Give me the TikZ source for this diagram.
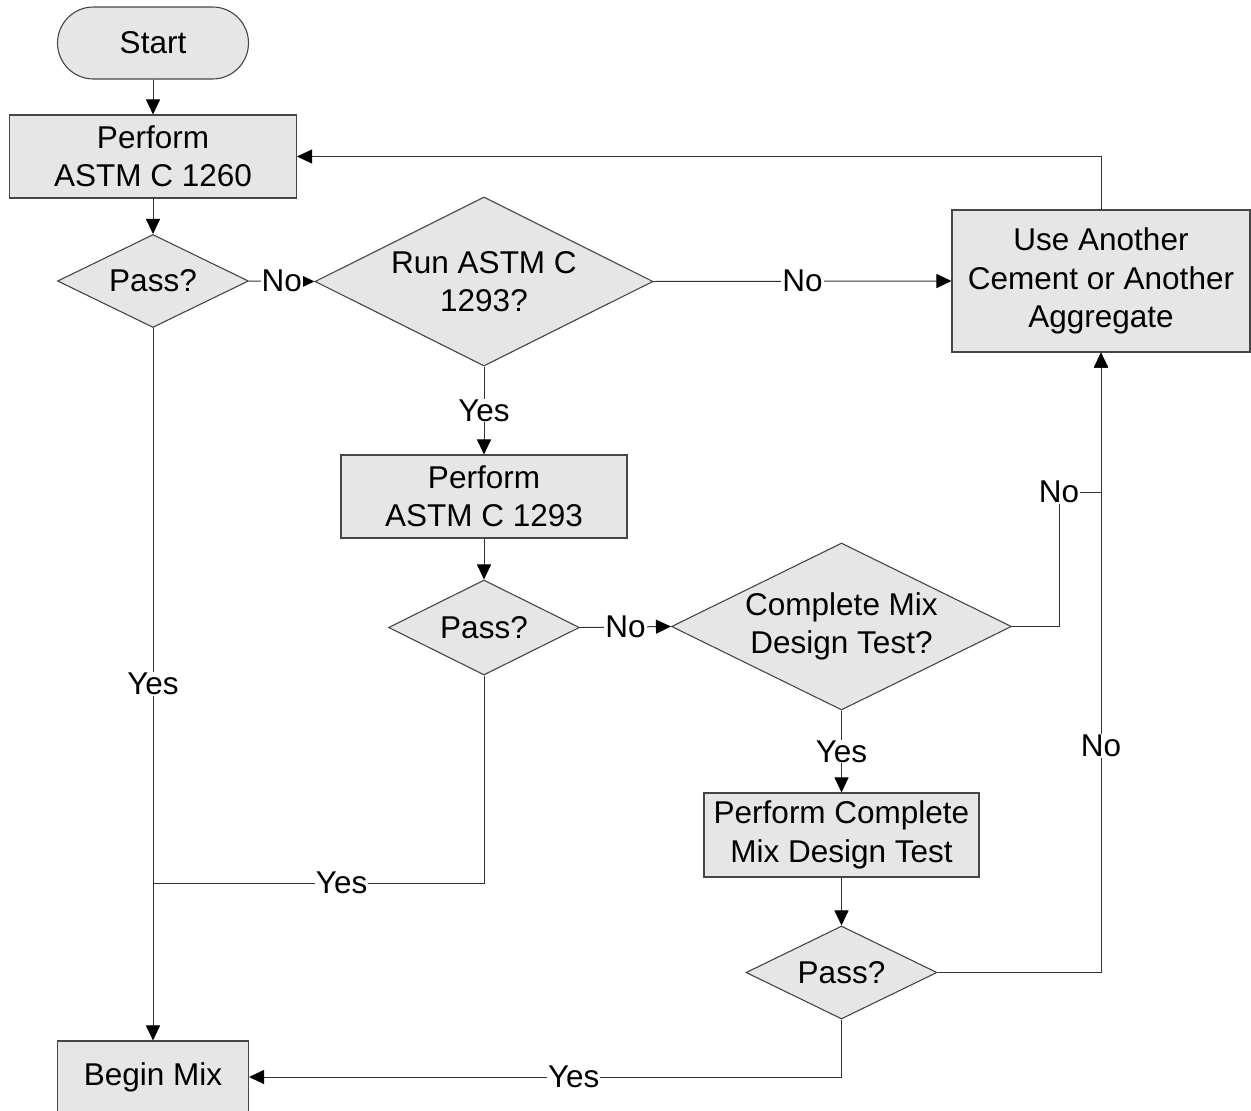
\documentclass[tikz,border=0pt]{standalone}
\usepackage{fontspec}
\setmainfont{Liberation Sans}
\usetikzlibrary{shapes.geometric,arrows.meta}
\definecolor{nodefill}{RGB}{230,230,230}
\definecolor{edgegray}{RGB}{50,50,50}
\definecolor{bordergray}{RGB}{70,70,70}
\tikzset{
  basenode/.style={draw=bordergray, line width=1.1pt, fill=nodefill, align=center, inner sep=0pt,
    font=\fontsize{31.5}{38.5}\selectfont, text=black},
  term/.style={basenode, rectangle, rounded corners=36pt, minimum width=191pt, minimum height=72pt},
  procbox/.style={basenode, rectangle},
  decision/.style={basenode, diamond, aspect=2},
  conn/.style={draw=edgegray, line width=1pt},
  arr/.style={conn, -{Triangle[length=15pt,width=14pt,fill=black,color=black]}},
  lbl/.style={fill=white, inner sep=1pt, font=\fontsize{31.5}{38.5}\selectfont, text=black}
}
\begin{document}
\begin{tikzpicture}[x=1pt,y=-1pt]
\useasboundingbox (0,0) rectangle (1251,1111);
\node[term] (start) at (153,43) {Start};
\node[procbox, minimum width=287pt, minimum height=83pt] (p1260) at (153,156.5) {Perform\\ASTM C 1260};
\node[decision, minimum width=191pt, minimum height=93pt] (pass1) at (153,281) {Pass?};
\node[decision, minimum width=338pt, minimum height=169pt] (run) at (484,281.5) {Run ASTM C\\1293?};
\node[procbox, minimum width=298pt, minimum height=142pt] (another) at (1101,281) {Use Another\\Cement or Another\\Aggregate};
\node[procbox, minimum width=286pt, minimum height=83pt] (p1293) at (484,496.5) {Perform\\ASTM C 1293};
\node[decision, minimum width=191pt, minimum height=95pt] (pass2) at (484,627.5) {Pass?};
\node[decision, minimum width=340pt, minimum height=167pt] (cmd) at (841.5,626.5) {Complete Mix\\Design Test?};
\node[procbox, minimum width=275pt, minimum height=84pt] (pcm) at (841.5,835) {Perform Complete\\Mix Design Test};
\node[decision, minimum width=191pt, minimum height=93pt] (pass3) at (841.5,972.5) {Pass?};
\node[procbox, minimum width=191pt, minimum height=72pt] (begin) at (153,1077) {Begin Mix};
\coordinate (k1) at (1059,492);
\coordinate (j2) at (153,883);

\draw[arr] (start) -- (p1260);
\draw[arr] (p1260) -- (pass1);
\draw[arr] (pass1.east) -- node[lbl]{No} (run.west);
\draw[arr] (run.east) -- node[lbl]{No} (another.west);
\draw[arr] (another.north) |- (p1260.east);
\draw[arr] (run.south) -- node[lbl]{Yes} (p1293.north);
\draw[arr] (p1293) -- (pass2);
\draw[arr] (pass2.east) -- node[lbl]{No} (cmd.west);
\draw[arr] (cmd.east) -| (k1) -| (another.south);
\node[lbl] at (k1) {No};
\draw[arr] (pass3.east) -| node[lbl, pos=0.683]{No} (another.south);
\draw[arr] (cmd.south) -- node[lbl]{Yes} (pcm.north);
\draw[arr] (pcm) -- (pass3);
\draw[arr] (pass3.south) |- node[lbl, pos=0.726]{Yes} (begin.east);
\draw[arr] (pass1.south) -- node[lbl]{Yes} (begin.north);
\draw[conn] (pass2.south) |- node[lbl, pos=0.715]{Yes} (j2);
\end{tikzpicture}
\end{document}
